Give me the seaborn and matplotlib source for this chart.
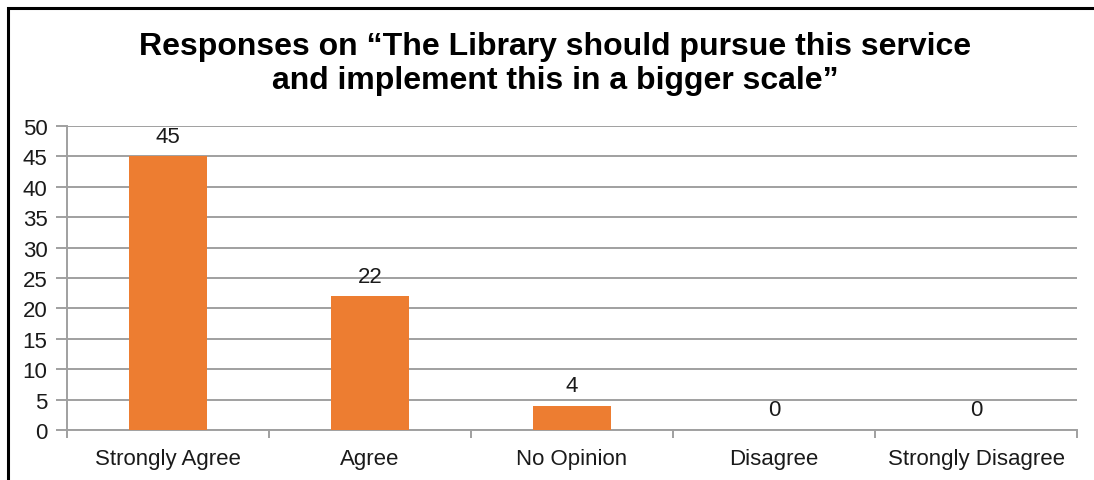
import matplotlib
matplotlib.use("Agg")
import matplotlib.pyplot as plt
import seaborn as sns
import pandas as pd
from matplotlib.patches import Rectangle
from matplotlib.ticker import FixedLocator, NullFormatter

categories = ["Strongly Agree", "Agree", "No Opinion", "Disagree", "Strongly Disagree"]
responses = [45, 22, 4, 0, 0]
y_ticks = [0, 5, 10, 15, 20, 25, 30, 35, 40, 45, 50]

sns.set_style("white")
plt.rcParams["font.family"] = ["Liberation Sans", "DejaVu Sans"]

df = pd.DataFrame({"category": categories, "responses": responses})

fig = plt.figure(figsize=(10.94, 4.81), dpi=100)
ax = fig.add_axes([67 / 1094, 1 - 431 / 481, (1077 - 67) / 1094, (431 - 127) / 481])

sns.barplot(data=df, x="category", y="responses", color="#ED7D31",
            saturation=1, width=0.39, linewidth=0, ax=ax, zorder=3)

txt_c = "#1a1a1a"
ax.set_ylim(0, 50)
ax.set_xlim(-0.5, len(categories) - 0.5)
ax.set_yticks(y_ticks)
ax.set_yticklabels([str(v) for v in y_ticks], fontsize=16)
ax.set_xticklabels(categories, fontsize=16)
ax.set_xlabel("")
ax.set_ylabel("")

grid_c = "#A0A0A0"
ax.yaxis.grid(True, color=grid_c, linewidth=1.4, zorder=0)
ax.set_axisbelow(True)
for side in ["top", "right"]:
    ax.spines[side].set_visible(False)
for side in ["left", "bottom"]:
    ax.spines[side].set_color(grid_c)
    ax.spines[side].set_linewidth(1.4)

ax.tick_params(axis="y", left=True, length=8, width=1.4, color=grid_c, pad=6, labelcolor=txt_c)
ax.tick_params(axis="x", which="major", bottom=False, length=0, pad=13, labelcolor=txt_c)
ax.xaxis.set_minor_locator(FixedLocator([i - 0.5 for i in range(len(categories) + 1)]))
ax.xaxis.set_minor_formatter(NullFormatter())
ax.tick_params(axis="x", which="minor", bottom=True, length=6, width=1.4, color=grid_c)

for i, v in enumerate(responses):
    ax.annotate(str(v), (i, v), xytext=(0, 7), textcoords="offset points",
                ha="center", va="bottom", fontsize=16, color=txt_c)

fig.text(555 / 1094, 1 - 64 / 481,
         "Responses on \u201cThe Library should pursue this service\nand implement this in a bigger scale\u201d",
         ha="center", va="center", fontsize=23, fontweight="bold", linespacing=1.15,
         color="black")

fig.patches.append(Rectangle((7.5 / 1094, -0.1), 1.2, 1 - 8.5 / 481 + 0.1,
                             transform=fig.transFigure, fill=False,
                             edgecolor="black", linewidth=2.2))

fig.savefig("out.png", dpi=100)
